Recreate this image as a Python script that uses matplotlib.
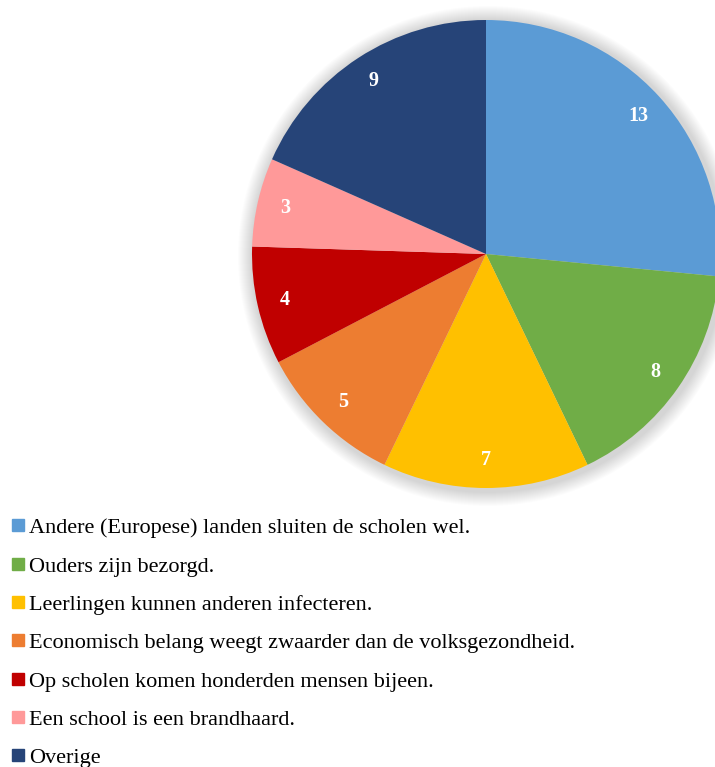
import matplotlib.pyplot as plt
from matplotlib.lines import Line2D
from matplotlib.patches import Circle

labels = ['Andere (Europese) landen sluiten de scholen wel.',
          'Ouders zijn bezorgd.',
          'Leerlingen kunnen anderen infecteren.',
          'Economisch belang weegt zwaarder dan de volksgezondheid.',
          'Op scholen komen honderden mensen bijeen.',
          'Een school is een brandhaard.',
          'Overige']
counts = [13, 8, 7, 5, 4, 3, 9]
colors = ['#5B9BD5', '#70AD47', '#FFC000', '#ED7D31', '#C00000', '#FF9999', '#264478']

W, H = 715, 767
fig = plt.figure(figsize=(W / 100, H / 100), dpi=100)
ax = fig.add_axes([0, 0, 1, 1])

cx, cy, r = 486, H - 254, 234

# soft shadow behind the pie
for i in range(14):
    ax.add_patch(Circle((cx + 2, cy - 2), r + 16 - i, color='black', alpha=0.012, lw=0, zorder=0))

wedges, texts = ax.pie(counts, colors=colors, startangle=90, counterclock=False,
                       center=(cx, cy), radius=r, labels=[str(c) for c in counts],
                       labeldistance=0.88, frame=True,
                       wedgeprops=dict(linewidth=0),
                       textprops=dict(color='white', fontweight='bold',
                                      fontsize=14.5, family='Liberation Serif'))
for t in texts:
    t.set_ha('center')
    t.set_va('center')
ax.set_xlim(0, W)
ax.set_ylim(0, H)
ax.set_aspect('equal')
ax.axis('off')

handles = [Line2D([], [], marker='s', ls='', color=c, markersize=8) for c in colors]
fig.legend(handles, labels, loc='upper left', bbox_to_anchor=(5 / W, 1 - 511 / H),
           frameon=False, handlelength=0.55, handletextpad=0.25, labelspacing=0.8,
           borderaxespad=0, borderpad=0.3,
           prop=dict(family='Liberation Serif', size=16))

fig.savefig('out.png', dpi=100)
